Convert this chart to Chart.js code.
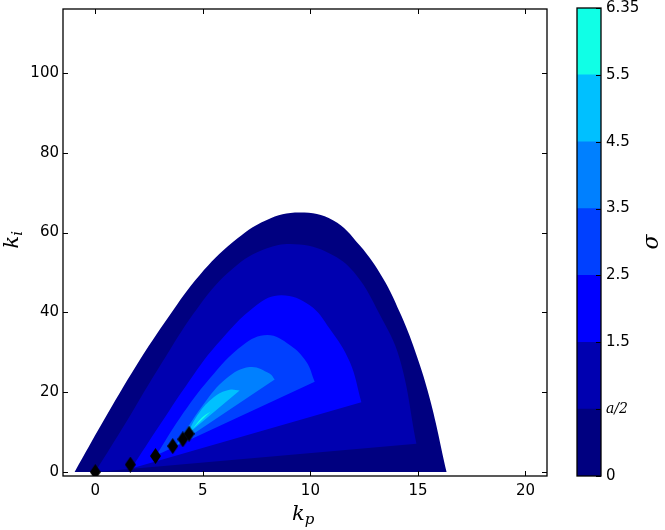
<!DOCTYPE html>
<html>
<head>
<meta charset="utf-8">
<script src="https://cdn.jsdelivr.net/npm/chart.js@4.4.0/dist/chart.umd.min.js"></script>
<style>
  html, body { margin: 0; padding: 0; background: #fff; }
  #wrap { position: relative; width: 665px; height: 530px; }
  #main { position: absolute; left: 0; top: 0; }
  #cbar { position: absolute; left: 560px; top: 0; }
</style>
</head>
<body>
<div id="wrap">
  <canvas id="main" width="665" height="530"></canvas>
  <canvas id="cbar" width="105" height="530"></canvas>
</div>
<script>
// --- contour regions (boundary), outermost first ---
const sig0Kp = [-0.96, 0.35, 1.91, 3.46, 4.85, 6.4, 7.95, 9.5, 11.05, 12.29, 13.38, 14.15, 14.77, 15.55, 16.33];
const sig0Ki = [0, 12.5, 26.7, 39.3, 49.3, 57.6, 63.1, 65.0, 63.1, 56.8, 48.5, 40.1, 31.8, 18.4, 0];
const sig1Kp = [0, 1.44, 2.84, 4.85, 6.4, 7.95, 9.5, 11.05, 12.14, 13.2, 14.15, 14.93];
const sig1Ki = [0, 12.5, 25.1, 41.8, 51.0, 56.0, 57.0, 54.3, 49.3, 39.7, 28.4, 7.1];
const sig2Kp = [1.67, 2.99, 4.23, 5.63, 7.49, 8.65, 9.97, 10.9, 11.83, 12.37];
const sig2Ki = [0.85, 11.7, 21.7, 31.8, 41.8, 44.3, 41.8, 35.9, 27.6, 17.5];
const sig3Kp = [2.84, 3.92, 5.32, 6.87, 8.0, 9.04, 9.81, 10.2];
const sig3Ki = [4.2, 13.4, 23.4, 31.8, 34.3, 31.8, 27.6, 22.6];
const sig4Kp = [3.77, 5.0, 6.09, 7.18, 8.1, 8.34];
const sig4Ki = [6.7, 16.7, 23.4, 26.3, 24.7, 23.2];
const sig5Kp = [4.23, 4.85, 5.63, 6.25, 6.71];
const sig5Ki = [9.2, 15.0, 19.2, 20.6, 20.4];
const sig6Kp = [4.54, 4.95, 5.35];
const sig6Ki = [10.9, 13.6, 15.1];

// black diamonds
const markKp = [0, 1.63, 2.8, 3.6, 4.07, 4.36];
const markKi = [0, 1.85, 4.0, 6.5, 8.2, 9.6];

// colour bar
const sigmaLabels = ['0', 'a/2', '1.5', '2.5', '3.5', '4.5', '5.5', '6.35'];
const bandColors = ['#000080', '#0000b0', '#0000ff', '#0040ff', '#0080ff', '#00c0ff', '#10ffe6'];

const xTicks = [0, 5, 10, 15, 20];
const yTicks = [0, 20, 40, 60, 80, 100];

const tickFont = { family: 'DejaVu Sans', size: 15 };

function toPts(xs, ys) {
    return xs.map((x, i) => ({ x: x, y: ys[i] }));
}

// thin diamond marker
const diamond = document.createElement('canvas');
diamond.width = 11;
diamond.height = 16;
(function () {
    const c = diamond.getContext('2d');
    c.fillStyle = '#000';
    c.beginPath();
    c.moveTo(5.5, 0);
    c.lineTo(11, 8);
    c.lineTo(5.5, 16);
    c.lineTo(0, 8);
    c.closePath();
    c.fill();
})();

const regions = [
    [sig0Kp, sig0Ki], [sig1Kp, sig1Ki], [sig2Kp, sig2Ki], [sig3Kp, sig3Ki],
    [sig4Kp, sig4Ki], [sig5Kp, sig5Ki], [sig6Kp, sig6Ki]
];

// index 0 is drawn on top, so markers first, then inner regions before outer ones
const datasets = [{
    data: toPts(markKp, markKi),
    showLine: false,
    pointStyle: diamond,
    pointRadius: 6,
    borderWidth: 0
}];
for (let i = regions.length - 1; i >= 0; i--) {
    datasets.push({
        data: toPts(regions[i][0], regions[i][1]),
        fill: 'shape',
        backgroundColor: bandColors[i],
        borderWidth: 0,
        pointRadius: 0,
        tension: 0.4
    });
}

function line(ctx, x1, y1, x2, y2) {
    ctx.beginPath();
    ctx.moveTo(x1, y1);
    ctx.lineTo(x2, y2);
    ctx.stroke();
}

// scales should not reserve room for labels hanging over the ends
function noPad(s) {
    s.paddingTop = 0;
    s.paddingBottom = 0;
    s.paddingLeft = 0;
    s.paddingRight = 0;
}

// inward ticks, frame and math-style axis labels
const framePlugin = {
    id: 'frame',
    afterDraw(chart) {
        const { ctx, chartArea: a, scales: { x, y } } = chart;
        ctx.save();
        ctx.strokeStyle = '#000';
        ctx.lineWidth = 1;
        xTicks.forEach(v => {
            const px = Math.round(x.getPixelForValue(v)) + 0.5;
            line(ctx, px, a.bottom, px, a.bottom - 5);
            line(ctx, px, a.top, px, a.top + 5);
        });
        yTicks.forEach(v => {
            const py = Math.round(y.getPixelForValue(v)) + 0.5;
            line(ctx, a.left, py, a.left + 5, py);
            line(ctx, a.right, py, a.right - 5, py);
        });
        ctx.lineWidth = 1.3;
        ctx.strokeRect(a.left, a.top, a.right - a.left, a.bottom - a.top);

        ctx.fillStyle = '#000';
        ctx.textBaseline = 'alphabetic';
        // k_p
        ctx.font = 'italic 21px "DejaVu Serif"';
        const kw = ctx.measureText('k').width;
        const cx = (a.left + a.right) / 2;
        ctx.fillText('k', cx - 13, 520);
        ctx.font = 'italic 15px "DejaVu Serif"';
        ctx.fillText('p', cx - 13 + kw, 524);
        // k_i
        ctx.translate(24, (a.top + a.bottom) / 2);
        ctx.rotate(-Math.PI / 2);
        ctx.font = 'italic 21px "DejaVu Serif"';
        ctx.fillText('k', -6, -6);
        ctx.font = 'italic 15px "DejaVu Serif"';
        ctx.fillText('i', -6 + kw, -2);
        ctx.restore();
    }
};

new Chart(document.getElementById('main'), {
    type: 'line',
    data: { datasets: datasets },
    options: {
        responsive: false,
        animation: false,
        layout: { padding: { left: 0, top: 9, right: 118, bottom: 0 } },
        plugins: { legend: { display: false }, tooltip: { enabled: false } },
        scales: {
            x: {
                type: 'linear', min: -1.5, max: 21,
                afterBuildTicks: s => { s.ticks = xTicks.map(v => ({ value: v })); },
                afterFit: s => { s.height = 54; noPad(s); },
                grid: { display: false, drawTicks: false },
                border: { display: false },
                ticks: { color: '#000', font: tickFont, padding: 6, maxRotation: 0 }
            },
            y: {
                type: 'linear', min: -1, max: 116,
                afterBuildTicks: s => { s.ticks = yTicks.map(v => ({ value: v })); },
                afterFit: s => { s.width = 63; noPad(s); },
                grid: { display: false, drawTicks: false },
                border: { display: false },
                ticks: { color: '#000', font: tickFont, padding: 4 }
            }
        }
    },
    plugins: [framePlugin]
});

// colour bar frame, ticks and sigma label
const cbarPlugin = {
    id: 'cbarFrame',
    afterDraw(chart) {
        const { ctx, chartArea: a, scales: { y } } = chart;
        ctx.save();
        ctx.strokeStyle = '#000';
        ctx.lineWidth = 1;
        sigmaLabels.forEach((l, i) => {
            const py = Math.round(y.getPixelForValue(i)) + 0.5;
            line(ctx, a.right, py, a.right - 5, py);
        });
        ctx.lineWidth = 1.3;
        ctx.strokeRect(a.left, a.top, a.right - a.left, a.bottom - a.top);
        ctx.fillStyle = '#000';
        ctx.translate(98, (a.top + a.bottom) / 2);
        ctx.rotate(-Math.PI / 2);
        ctx.font = 'italic 22px "DejaVu Serif"';
        ctx.textAlign = 'center';
        ctx.fillText('σ', 0, 0);
        ctx.restore();
    }
};

new Chart(document.getElementById('cbar'), {
    type: 'bar',
    data: {
        labels: ['σ'],
        datasets: bandColors.map((c, i) => ({
            data: [[i, i + 1]],
            backgroundColor: c,
            borderWidth: 0,
            barPercentage: 1,
            categoryPercentage: 1,
            grouped: false
        }))
    },
    options: {
        responsive: false,
        animation: false,
        layout: { padding: { left: 17, top: 8, right: 0, bottom: 54 } },
        plugins: { legend: { display: false }, tooltip: { enabled: false } },
        scales: {
            x: { display: false },
            y: {
                position: 'right', min: 0, max: 7,
                afterBuildTicks: s => { s.ticks = sigmaLabels.map((l, i) => ({ value: i })); },
                afterFit: s => { s.width = 64; noPad(s); },
                grid: { display: false, drawTicks: false },
                border: { display: false },
                ticks: {
                    color: '#000',
                    padding: 5,
                    callback: (v, i) => sigmaLabels[i],
                    font: ctx => ctx.index === 1
                        ? { family: 'DejaVu Serif', style: 'italic', size: 14 }
                        : tickFont
                }
            }
        }
    },
    plugins: [cbarPlugin]
});
</script>
</body>
</html>
